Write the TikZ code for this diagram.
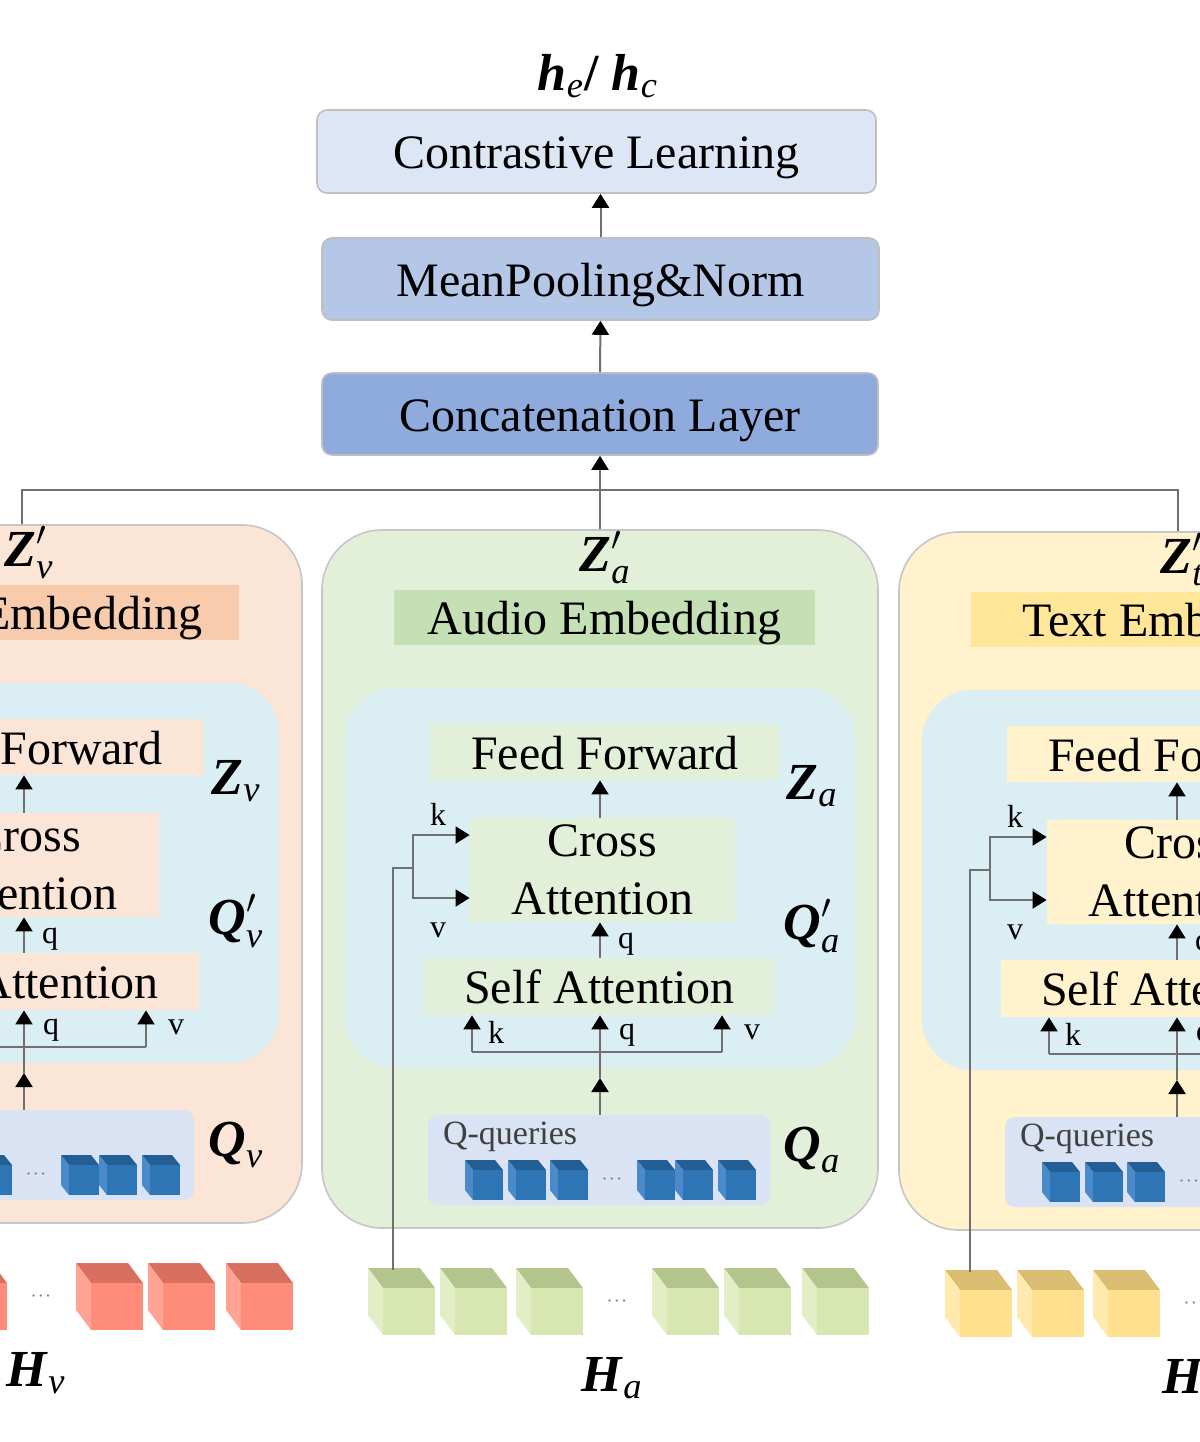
\documentclass[tikz,border=0pt]{standalone}
\usepackage{amsmath}
\usepackage{fontspec}
\setmainfont{Liberation Serif}
\usetikzlibrary{arrows.meta}

\definecolor{clbg}{HTML}{DCE6F4}
\definecolor{mpbg}{HTML}{B4C7E7}
\definecolor{cabg}{HTML}{8FAADC}
\definecolor{vbg}{HTML}{FBE5D6}
\definecolor{vemb}{HTML}{F8CBAD}
\definecolor{abg}{HTML}{E2F0D9}
\definecolor{aemb}{HTML}{C5E0B4}
\definecolor{tbg}{HTML}{FFF2CC}
\definecolor{temb}{HTML}{FFE699}
\definecolor{innerbg}{HTML}{DAEEF3}
\definecolor{qbg}{HTML}{DAE3F3}
\definecolor{vfront}{HTML}{FF8B79}
\definecolor{vtop}{HTML}{D9705F}
\definecolor{vleft}{HTML}{FFA494}
\definecolor{afront}{HTML}{D8E7B2}
\definecolor{atop}{HTML}{B3C58C}
\definecolor{aleft}{HTML}{E3EEC6}
\definecolor{tfront}{HTML}{FFE08F}
\definecolor{ttop}{HTML}{D9BE72}
\definecolor{tleft}{HTML}{FFE9AC}
\definecolor{bfront}{HTML}{2E75B6}
\definecolor{btop}{HTML}{235E94}
\definecolor{bleft}{HTML}{4A8ACB}
\definecolor{lineg}{HTML}{707070}

\newcommand\mycube[7]{%
  \fill[#7top] (#1,#2) -- ++(#3,0) -- ++(#5,#6) -- ++(-#3,0) -- cycle;
  \fill[#7left] (#1,#2) -- ++(#5,#6) -- ++(0,#4) -- ++(-#5,-#6) -- cycle;
  \fill[#7front] (#1+#5,#2+#6) rectangle ++(#3,#4);
}

\tikzset{
  txt/.style={font=\fontsize{24}{28.8}\selectfont},
  capalign/.style={text height=17pt, text depth=0pt},
  lab/.style={font=\fontsize{26}{30}\selectfont},
  smalllab/.style={font=\fontsize{16}{19}\selectfont, inner sep=0},
  qtxt/.style={font=\fontsize{17}{20}\selectfont, text=black!75},
  dotstxt/.style={font=\fontsize{11}{13}\selectfont, text=gray},
  arr/.style={draw=lineg, line width=1pt, -{Triangle[width=8.5pt,length=7pt,color=black]}},
  conn/.style={draw=lineg, line width=1pt},
  flat/.style={inner sep=0pt, draw=none, txt},
  sz/.style 2 args={minimum width=#1, minimum height=#2},
  topbox/.style={inner sep=0pt, draw=gray!50, line width=0.8pt, rounded corners=5pt, txt, capalign},
}

\begin{document}
\begin{tikzpicture}[x=0.5pt,y=-0.5pt]
\useasboundingbox (0,0) rectangle (1200,1442);
\fill[white] (0,0) rectangle (1200,1442);
\clip (0,0) rectangle (1200,1442);

% top stack
\node[lab] (he) at (598,76) {$\textbf{\textit{h}}_{\textit{e}}$\textbf{/} $\textbf{\textit{h}}_{\textit{c}}$};
\node[topbox, fill=clbg, sz={279.5pt}{41.5pt}] (cl) at (596.5,151.5) {Contrastive Learning};
\node[topbox, fill=mpbg, sz={278.5pt}{41pt}] (mp) at (600.5,279) {MeanPooling\&Norm};
\node[topbox, fill=cabg, sz={278pt}{41pt}] (cat) at (600,414) {Concatenation Layer};

\foreach \p/\dx/\dy/\title in {v/-576/-5/Video Embedding, a/0/0/Audio Embedding, t/577/2/Text Embedding}{
\begin{scope}[shift={(\dx,\dy)}]
  \node[inner sep=0pt, fill=\p bg, draw=gray!45, line width=0.8pt, rounded corners=30pt, sz={278pt}{349pt}] (\p-panel) at (600,879) {};
  \node[lab] (\p-zp) at (605,558) {$\textbf{\textit{Z}}'_{\textit{\p}}$};
  \node[flat, capalign, fill=\p emb, sz={210.5pt}{27.5pt}] (\p-emb) at (604.5,617.5) {\title};
  \node[flat, fill=innerbg, rounded corners=25pt, sz={255pt}{190pt}] (\p-inner) at (600,878) {};
  \node[flat, capalign, fill=\p bg, sz={175pt}{28pt}] (\p-ff) at (605,752) {Feed Forward};
  \node[flat, fill=\p bg, align=center, sz={132.5pt}{52pt}] (\p-ca) at (602.5,870) {Cross\\Attention};
  \node[flat, capalign, fill=\p bg, sz={175.5pt}{28.5pt}] (\p-sa) at (599.5,986.5) {Self Attention};
  \node[flat, fill=qbg, rounded corners=5pt, sz={171pt}{45pt}] (\p-qbox) at (599,1160) {};
  \node[qtxt, anchor=west] (\p-qq) at (436,1137) {Q-queries};
  \node[lab] (\p-z) at (812,786) {$\textbf{\textit{Z}}_{\textit{\p}}$};
  \node[lab] (\p-qp) at (812,926) {$\textbf{\textit{Q}}'_{\textit{\p}}$};
  \node[lab] (\p-q) at (812,1150) {$\textbf{\textit{Q}}_{\textit{\p}}$};
  \node[lab] (\p-H) at (612,1378) {$\textbf{\textit{H}}_{\textit{\p}}$};
  % query cubes
  \foreach \cx in {465,508,550,637,675,718} { \mycube{\cx}{1160}{30}{30}{8}{10}{b} }
  \node[dotstxt] (\p-qdots) at (612,1180) {$\cdot\!\cdot\!\cdot$};
  % input cubes
  \foreach \cx in {368,440,516,652,724,802} { \mycube{\cx}{1268}{52}{47}{15}{20}{\p} }
  \node[dotstxt] (\p-hdots) at (617,1302) {$\cdot\!\cdot\!\cdot$};
  % coordinates
  \coordinate (\p-h1) at (393,1270);
  \coordinate (\p-b0) at (393,868);
  \coordinate (\p-b1) at (413,868);
  \coordinate (\p-j) at (600,1052);
  \coordinate (\p-k0) at (472,1052);
  \coordinate (\p-v0) at (722,1052);
  \coordinate (\p-m) at (600,1078);
  % connectors
  \draw[conn] (\p-h1) -- (\p-b0) -- (\p-b1);
  \draw[arr] (\p-b1) |- ([yshift=17.5pt]\p-ca.west);
  \draw[arr] (\p-b1) |- ([yshift=-14pt]\p-ca.west);
  \node[smalllab] (\p-kl) at (438,814) {k};
  \node[smalllab] (\p-vl) at (438,930) {v};
  \draw[arr] (\p-ca.north -| \p-j) -- (\p-ff.south -| \p-j);
  \draw[arr] (\p-sa.north -| \p-j) -- (\p-ca.south -| \p-j);
  \node[smalllab] (\p-ql) at (626,944) {q};
  \draw[conn] (\p-k0) -- (\p-v0);
  \draw[arr] (\p-k0) -- (\p-k0 |- \p-sa.south);
  \draw[arr] (\p-j) -- (\p-j |- \p-sa.south);
  \draw[arr] (\p-v0) -- (\p-v0 |- \p-sa.south);
  \node[smalllab] (\p-kl2) at (496,1032) {k};
  \node[smalllab] (\p-ql2) at (627,1035) {q};
  \node[smalllab] (\p-vl2) at (752,1032) {v};
  \draw[arr] (\p-qbox.north -| \p-j) -- (\p-m);
  \draw[conn] (\p-m) -- (\p-j);
\end{scope}
}

% top connectors
\coordinate (jl) at (22,490);
\coordinate (jr) at (1178,490);
\draw[conn] (v-panel.north -| jl) -- (jl) -- (jr) -- (t-panel.north -| jr);
\draw[arr] (a-panel.north) -- (cat.south);
\draw[arr] (cat.north) -- (mp.south);
\draw[arr] (mp.north) -- (mp.north |- cl.south);
\end{tikzpicture}
\end{document}
